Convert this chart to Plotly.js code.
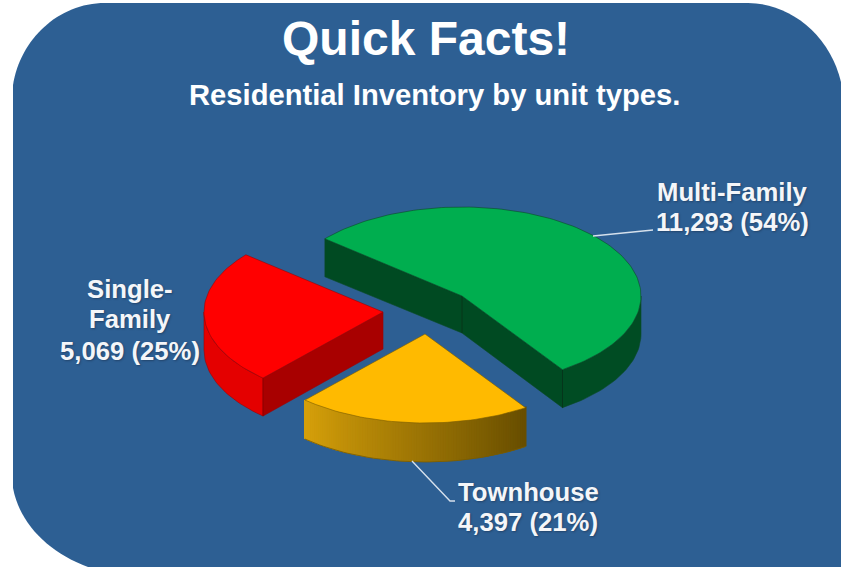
<!DOCTYPE html>
<html>
<head>
<meta charset="utf-8">
<script src="https://cdn.plot.ly/plotly-3.0.1.min.js"></script>
<style>html,body{margin:0;padding:0;background:#fff}#chart{width:841px;height:567px}</style>
</head>
<body>
<div id="chart"></div>
<script>
// Data
const categories = ["Multi-Family", "Townhouse", "Single-Family"];
const categoryLines = [["Multi-Family"], ["Townhouse"], ["Single-", "Family"]];
const unitCounts = [11293, 4397, 5069];
const percentLabels = [54, 21, 25];
const titleText = "Quick Facts!";
const subtitleText = "Residential Inventory by unit types.";

// Styling and projection of the exploded 3D pie
const sliceCentres = [[462, 296], [425, 334], [383, 312]];
const labelX = [732, 528, 130];
const labelY = [[192, 222], [492, 522], [289, 319, 351]];
const topColours = ["#00AE4F", "#FFBA00", "#FF0000"];
const wallColours = ["#004C23", null, "#E40000"];
const faceColours = ["#004A22", "#8A6A00", "#A80000"];
const edgeColours = ["#0B4A26", "#7A5C00", "#A00000"];
const creaseColours = ["#06331A", "#7A5C00", "#8E0000"];
const radiusX = 179, radiusY = 89, depth = 38, startAngle = 140;
const blue = "#2D5F93";

const total = unitCounts.reduce((a, b) => a + b, 0);
const rad = d => d * Math.PI / 180;
const rim = (c, a, dz) => [c[0] + radiusX * Math.cos(rad(a)), c[1] - radiusY * Math.sin(rad(a)) + (dz || 0)];

function poly(points, fill, line, width) {
  const closed = points.concat([points[0]]);
  return {
    type: "scatter", mode: "lines", hoverinfo: "skip", showlegend: false,
    x: closed.map(p => p[0]), y: closed.map(p => p[1]),
    fill: "toself", fillcolor: fill,
    line: {color: line || fill, width: width === undefined ? 0.6 : width}
  };
}
function stroke(points, colour, width) {
  return {type: "scatter", mode: "lines", hoverinfo: "skip", showlegend: false,
    x: points.map(p => p[0]), y: points.map(p => p[1]), line: {color: colour, width: width}};
}
function arcPoints(c, a0, a1, dz) {
  const n = Math.max(2, Math.ceil(Math.abs(a1 - a0) / 1.5));
  const out = [];
  for (let i = 0; i <= n; i++) out.push(rim(c, a0 + (a1 - a0) * i / n, dz));
  return out;
}
function mix(a, b, t) {
  return "rgb(" + a.map((v, i) => Math.round(v + (b[i] - v) * t)).join(",") + ")";
}

const traces = [];
let angle = startAngle;
categories.forEach((name, i) => {
  const c = sliceCentres[i];
  const a0 = angle, a1 = angle - unitCounts[i] / total * 360;
  angle = a1;
  const low = [c[0], c[1] + depth - 1];

  // cut faces that look towards the viewer
  if (i === 0) {
    traces.push(poly([c, rim(c, a0), rim(c, a0, depth), low], faceColours[i], edgeColours[i]));
    traces.push(poly([c, rim(c, a1), rim(c, a1, depth), low], faceColours[i], edgeColours[i]));
  }
  if (i === 2) {
    traces.push(poly([c, rim(c, a0), rim(c, a0, depth), low], faceColours[i], edgeColours[i]));
  }

  // outer wall: only the near half of the rim is visible
  let wa = a0, wb = a1;
  if (i === 0) { wa = 0; }
  if (i === 2) { wb = -180; }
  if (i === 1) {
    const steps = 90, from = [214, 160, 10], to = [104, 78, 0];
    for (let s = 0; s < steps; s++) {
      const p = wb + (wa - wb) * s / steps, q = wb + (wa - wb) * (s + 1) / steps;
      const col = mix(from, to, s / (steps - 1));
      traces.push(poly([rim(c, p), rim(c, q), rim(c, q, depth), rim(c, p, depth)], col, col, 2));
    }
    traces.push(stroke(arcPoints(c, wb, wa, depth + 1), edgeColours[i], 0.8));
  } else {
    const wall = arcPoints(c, wa, wb).concat(arcPoints(c, wb, wa, depth));
    traces.push(poly(wall, wallColours[i], edgeColours[i]));
  }

  // vertical creases between wall faces
  if (i === 0) {
    traces.push(stroke([c, low], creaseColours[i], 0.9));
    traces.push(stroke([rim(c, a1), rim(c, a1, depth)], creaseColours[i], 0.9));
  }
  if (i === 2) {
    traces.push(stroke([rim(c, a0), rim(c, a0, depth)], creaseColours[i], 0.9));
  }

  // top surface
  traces.push(poly([c].concat(arcPoints(c, a0, a1)), topColours[i], edgeColours[i], 0.6));
});

// leader lines
const leaders = [
  {x: [593, 653], y: [236, 230]},
  {x: [412, 450, 455], y: [461, 501, 501]}
];
leaders.forEach(l => traces.push(stroke(l.x.map((x, k) => [x, l.y[k]]), "#D5E0EC", 1.4)));

const fontFamily = "Liberation Sans, Arial, sans-serif";
const annotations = [
  {x: 426, y: 38, text: "<b>" + titleText + "</b>", font: {family: fontFamily, size: 48, color: "#FFFFFF"}},
  {x: 434, y: 95, text: "<b>" + subtitleText + "</b>", font: {family: fontFamily, size: 29.2, color: "#FFFFFF"}}
];
categories.forEach((name, i) => {
  const lines = categoryLines[i].concat([unitCounts[i].toLocaleString("en-US") + " (" + percentLabels[i] + "%)"]);
  lines.forEach((line, k) => {
    annotations.push({
      x: labelX[i], y: labelY[i][k], text: "<b>" + line + "</b>",
      font: {family: fontFamily, size: 25.7, color: "#F4F6F9", shadow: "1px 1px 2px rgba(20,30,50,0.4)"}
    });
  });
});
annotations.forEach(a => { a.xref = "x"; a.yref = "y"; a.showarrow = false; a.xanchor = "center"; a.yanchor = "middle"; a.align = "center"; });

const panel = "M 13 85 C 20 40 58 3 105 3 L 748 3 C 790 3 830 35 841 82 L 841 567 L 88 567 C 50 553 20 525 13 488 Z";

Plotly.newPlot("chart", traces, {
  width: 841, height: 567,
  margin: {l: 0, r: 0, t: 0, b: 0},
  paper_bgcolor: "#FFFFFF", plot_bgcolor: "#FFFFFF",
  xaxis: {range: [0, 841], visible: false, fixedrange: true},
  yaxis: {range: [567, 0], visible: false, fixedrange: true},
  showlegend: false,
  shapes: [{type: "path", layer: "below", xref: "x", yref: "y", path: panel, fillcolor: blue, line: {width: 0}}],
  annotations: annotations
}, {displayModeBar: false, staticPlot: true});
</script>
</body>
</html>
